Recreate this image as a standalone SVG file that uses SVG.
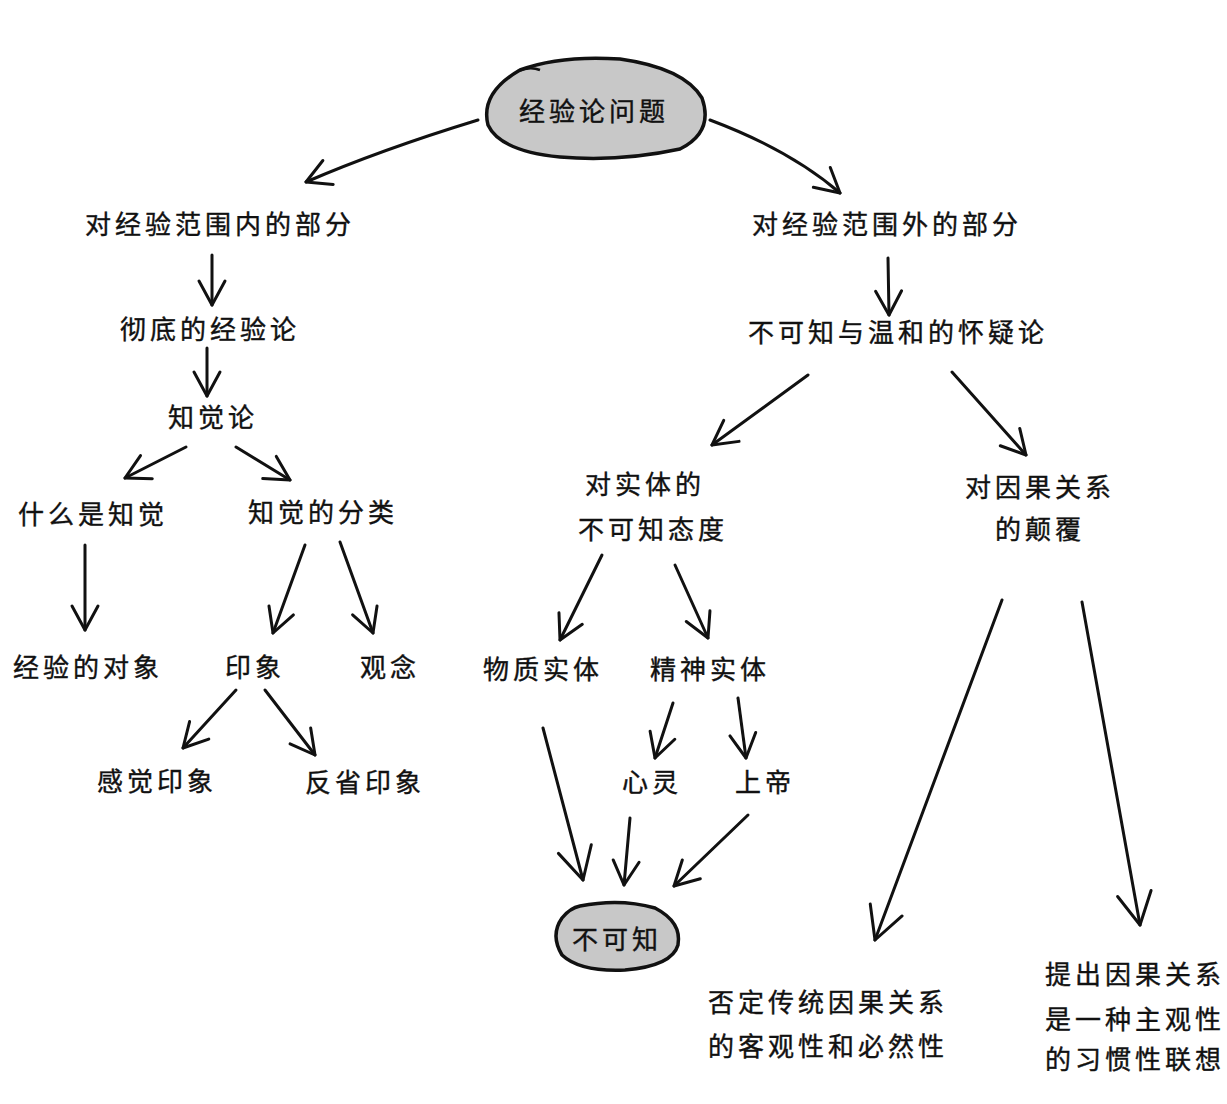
<svg xmlns="http://www.w3.org/2000/svg" width="1227" height="1104" viewBox="0 0 1227 1104">
<defs>
<style>
text{font-family:"Noto Sans CJK SC","Noto Sans CJK JP",sans-serif;font-size:26px;letter-spacing:4px;fill:#111;stroke:#111;stroke-width:0.4}
.c path{fill:none;stroke:#111;stroke-width:3;stroke-linecap:round;marker-end:url(#v)}
.c path.big{marker-end:url(#vb)}
.blob{fill:#c8c8c8;stroke:#111;stroke-width:3.5}
</style>
<marker id="v" markerUnits="userSpaceOnUse" markerWidth="40" markerHeight="40" refX="28" refY="16" orient="auto">
<path d="M4,3 L28,16 L4,29" fill="none" stroke="#111" stroke-width="3" stroke-linecap="round" stroke-linejoin="round"/>
</marker>
<marker id="vb" markerUnits="userSpaceOnUse" markerWidth="50" markerHeight="50" refX="36" refY="20" orient="auto">
<path d="M4,3 L36,20 L4,37" fill="none" stroke="#111" stroke-width="3" stroke-linecap="round" stroke-linejoin="round"/>
</marker>
</defs>
<rect width="1227" height="1104" fill="#fff"/>
<g id="connectors" class="c">
<path d="M478,120 Q380,150 306,182"/>
<path d="M710,120 Q790,150 840,193"/>
<path d="M212,255 L212,305"/>
<path d="M207,348 L207,396"/>
<path d="M186,447 L125,478"/>
<path d="M236,447 L290,480"/>
<path d="M85,545 L85,630"/>
<path d="M305,545 L273,633"/>
<path d="M340,542 L373,633"/>
<path d="M236,690 L183,748"/>
<path d="M265,690 L315,755"/>
<path d="M888,258 L889,315"/>
<path d="M808,375 L712,445"/>
<path d="M952,372 L1026,455"/>
<path d="M602,555 L560,640"/>
<path d="M675,565 L708,638"/>
<path d="M673,703 L655,758"/>
<path d="M738,698 L746,758"/>
<path class="big" d="M543,728 L583,880"/>
<path d="M630,818 L624,885"/>
<path d="M748,815 L674,886"/>
<path class="big" d="M1002,600 L875,940"/>
<path class="big" d="M1082,602 L1140,925"/>
</g>
<g id="n-root">
<path class="blob" d="M520,70 Q560,55 620,59 Q684,68 702,98 Q714,132 680,149 Q620,162 560,157 Q500,151 488,125 Q480,93 520,70 Z"/>
<path d="M518,71 Q530,66 540,70" fill="none" stroke="#111" stroke-width="2.5"/>
<text x="519" y="121">经验论问题</text>
</g>
<g id="n-inner"><text x="85" y="234">对经验范围内的部分</text></g>
<g id="n-outer"><text x="752" y="234">对经验范围外的部分</text></g>
<g id="n-radical"><text x="120" y="339">彻底的经验论</text></g>
<g id="n-perception"><text x="168" y="427">知觉论</text></g>
<g id="n-what"><text x="18" y="524">什么是知觉</text></g>
<g id="n-class"><text x="248" y="522">知觉的分类</text></g>
<g id="n-object"><text x="13" y="677">经验的对象</text></g>
<g id="n-impression"><text x="225" y="677">印象</text></g>
<g id="n-idea"><text x="360" y="677">观念</text></g>
<g id="n-sense"><text x="97" y="791">感觉印象</text></g>
<g id="n-reflect"><text x="305" y="792">反省印象</text></g>
<g id="n-skeptic"><text x="748" y="342">不可知与温和的怀疑论</text></g>
<g id="n-substance"><text x="585" y="494">对实体的</text><text x="578" y="539">不可知态度</text></g>
<g id="n-causal"><text x="965" y="497">对因果关系</text><text x="995" y="539">的颠覆</text></g>
<g id="n-matter"><text x="483" y="679">物质实体</text></g>
<g id="n-spirit"><text x="650" y="679">精神实体</text></g>
<g id="n-mind"><text x="622" y="792">心灵</text></g>
<g id="n-god"><text x="735" y="792">上帝</text></g>
<g id="n-unknown">
<path class="blob" d="M580,906 Q620,898 655,908 Q682,922 678,945 Q672,966 625,970 Q580,972 562,955 Q550,935 562,918 Q570,908 580,906 Z"/>
<text x="572" y="949">不可知</text>
</g>
<g id="n-deny"><text x="708" y="1012">否定传统因果关系</text><text x="708" y="1056">的客观性和必然性</text></g>
<g id="n-propose"><text x="1045" y="984">提出因果关系</text><text x="1045" y="1029">是一种主观性</text><text x="1045" y="1069">的习惯性联想</text></g>
</svg>
